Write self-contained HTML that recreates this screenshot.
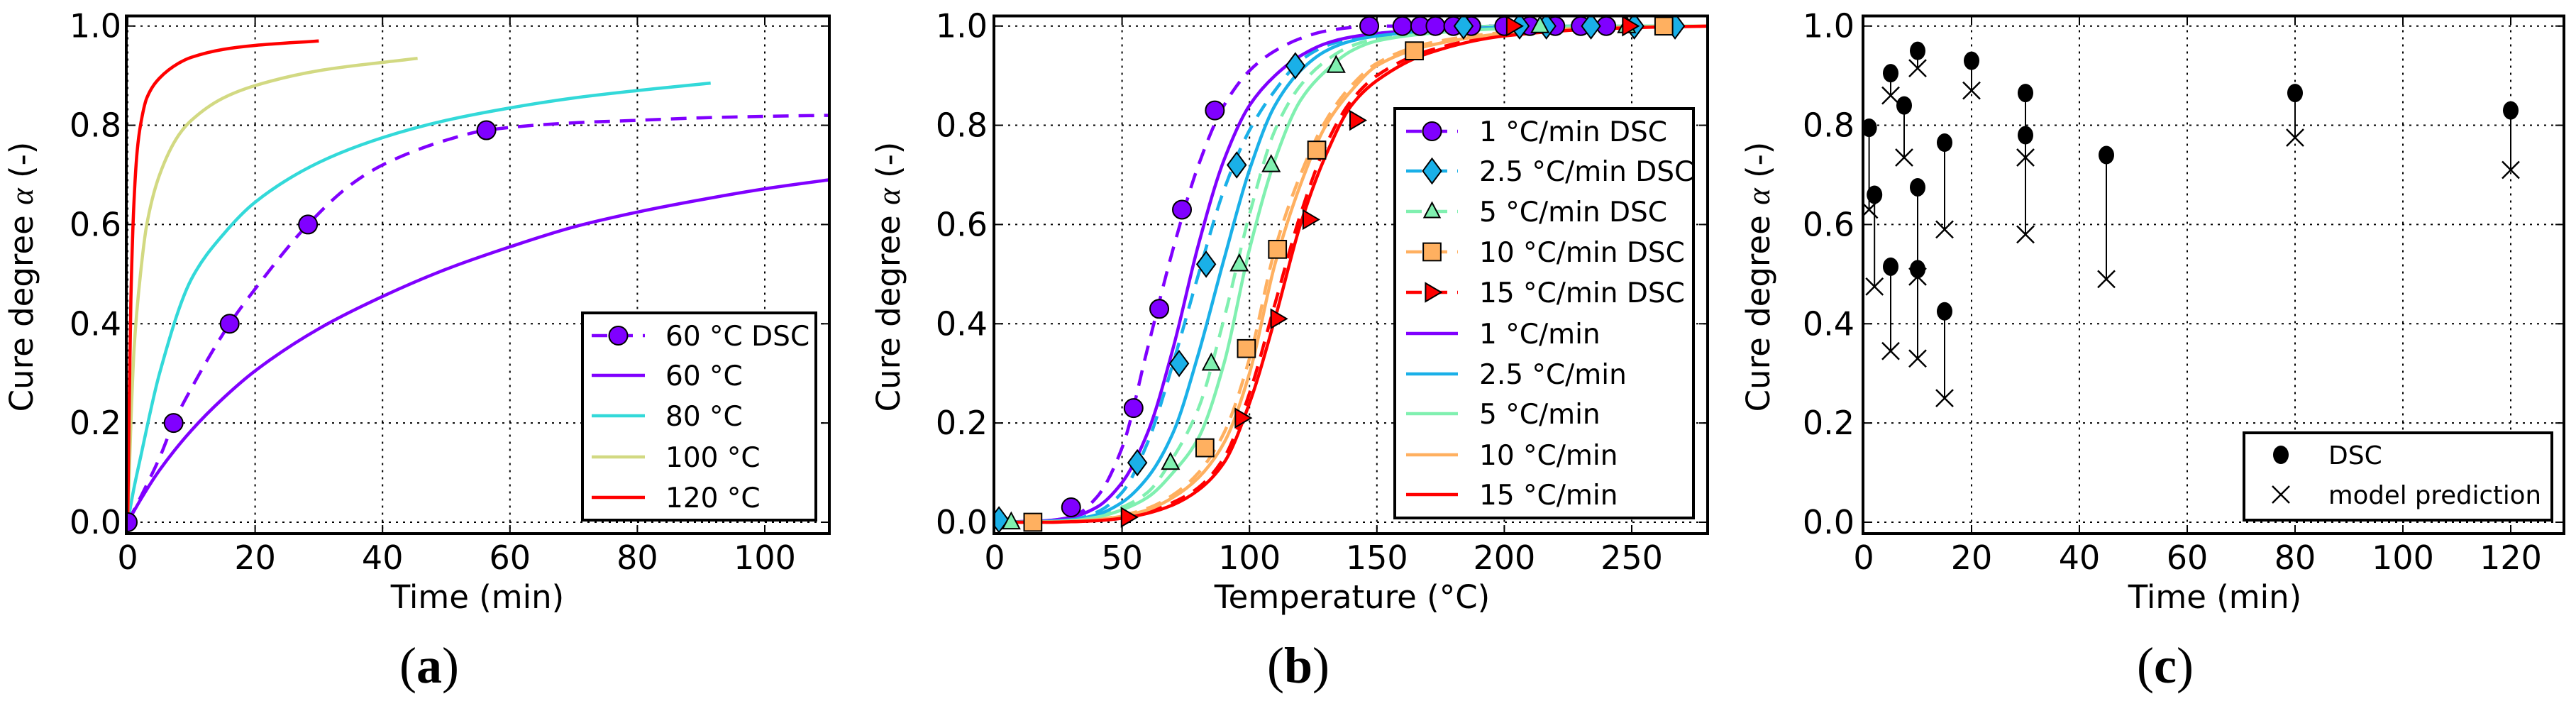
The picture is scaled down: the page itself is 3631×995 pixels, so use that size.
<!DOCTYPE html>
<html><head><meta charset="utf-8"><style>
html,body{margin:0;padding:0;background:#fff;}
svg{display:block;font-family:"DejaVu Sans","Liberation Sans",sans-serif;}
</style></head><body>
<svg id="fig" width="3631" height="995" viewBox="0 0 3631 995" xmlns="http://www.w3.org/2000/svg"></svg>
<script>
// ---------- Panel (a) data ----------
const aDscTime = [0, 7.2, 16, 28.3, 56.3];
const aDscVal = [0, 0.2, 0.4, 0.6, 0.79];
const aDashTime = [0, 2, 5, 7.2, 10, 16, 20, 28.3, 35, 40, 50, 56.3, 70, 80, 90, 100, 110];
const aDashVal = [0, 0.05, 0.13, 0.2, 0.27, 0.4, 0.47, 0.6, 0.68, 0.72, 0.77, 0.79, 0.805, 0.81, 0.815, 0.818, 0.82];
const a60Time = [0, 2, 5, 10, 15, 20, 30, 40, 50, 60, 70, 80, 90, 100, 110];
const a60Val = [0, 0.045, 0.105, 0.185, 0.25, 0.305, 0.39, 0.455, 0.51, 0.555, 0.595, 0.625, 0.65, 0.672, 0.69];
const a80Time = [0, 1, 2, 5, 10, 15, 20, 30, 40, 50, 60, 70, 80, 91.5];
const a80Val = [0, 0.07, 0.13, 0.3, 0.49, 0.58, 0.645, 0.725, 0.775, 0.81, 0.835, 0.855, 0.87, 0.885];
const a100Time = [0, 0.5, 1, 2, 3, 5, 8, 10, 15, 20, 30, 45.5];
const a100Val = [0, 0.2, 0.35, 0.5, 0.6, 0.7, 0.78, 0.81, 0.855, 0.88, 0.91, 0.935];
const a120Time = [0, 0.2, 0.5, 1, 1.5, 2, 3, 5, 8, 10, 15, 20, 30];
const a120Val = [0, 0.2, 0.45, 0.65, 0.75, 0.8, 0.855, 0.895, 0.925, 0.937, 0.953, 0.961, 0.97];
const aXTicks = ["0", "20", "40", "60", "80", "100"];
const yTicks = ["0.0", "0.2", "0.4", "0.6", "0.8", "1.0"];

// ---------- Panel (b) data ----------
const bGridT = [0, 20, 30, 40, 50, 60, 70, 80, 90, 100, 110, 120, 130, 140, 150, 170, 200, 240, 280];
const bSolid1 = [0, 0.003, 0.01, 0.03, 0.08, 0.18, 0.35, 0.56, 0.73, 0.84, 0.9, 0.94, 0.965, 0.978, 0.985, 0.992, 0.997, 1, 1];
const bSolid25 = [0, 0.002, 0.005, 0.015, 0.04, 0.09, 0.18, 0.34, 0.53, 0.71, 0.84, 0.91, 0.95, 0.97, 0.98, 0.99, 0.997, 1, 1];
const bSolid5 = [0, 0.001, 0.003, 0.01, 0.025, 0.05, 0.1, 0.17, 0.32, 0.55, 0.73, 0.85, 0.91, 0.95, 0.97, 0.985, 0.995, 1, 1];
const bSolid10 = [0, 0, 0.002, 0.005, 0.012, 0.025, 0.05, 0.09, 0.16, 0.3, 0.52, 0.68, 0.8, 0.87, 0.92, 0.96, 0.985, 0.997, 1];
const bSolid15 = [0, 0, 0.001, 0.003, 0.008, 0.018, 0.035, 0.065, 0.12, 0.24, 0.41, 0.6, 0.74, 0.84, 0.89, 0.945, 0.98, 0.995, 1];
const bDash1 = [0, 0.003, 0.01, 0.05, 0.15, 0.35, 0.55, 0.72, 0.84, 0.91, 0.95, 0.975, 0.99, 0.997, 1, 1, 1, 1, 1];
const bDash25 = [0, 0.002, 0.005, 0.02, 0.06, 0.16, 0.32, 0.5, 0.67, 0.79, 0.87, 0.93, 0.96, 0.975, 0.985, 0.993, 1, 1, 1];
const bDash5 = [0, 0.001, 0.004, 0.01, 0.03, 0.06, 0.13, 0.23, 0.41, 0.62, 0.79, 0.88, 0.93, 0.96, 0.975, 0.99, 1, 1, 1];
const bDash10 = [0, 0, 0.002, 0.005, 0.014, 0.028, 0.055, 0.1, 0.18, 0.33, 0.55, 0.7, 0.81, 0.88, 0.925, 0.965, 0.987, 0.998, 1];
const bDash15 = [0, 0, 0.001, 0.004, 0.01, 0.02, 0.04, 0.07, 0.13, 0.26, 0.44, 0.62, 0.76, 0.85, 0.9, 0.95, 0.982, 0.996, 1];
const bM1T = [30, 54.5, 64.6, 73.5, 86.4, 147, 160, 167, 173, 180, 187, 200, 210, 220, 230, 240];
const bM1V = [0.03, 0.23, 0.43, 0.63, 0.83, 1, 1, 1, 1, 1, 1, 1, 1, 1, 1, 1];
const bM25T = [1.7, 56, 72.4, 83, 95, 118, 184, 206, 216.5, 234, 251, 267];
const bM25V = [0.005, 0.12, 0.32, 0.52, 0.72, 0.92, 1, 1, 1, 1, 1, 1];
const bM5T = [6.5, 69, 85, 96, 108.5, 134, 214, 248];
const bM5V = [0, 0.12, 0.32, 0.52, 0.72, 0.92, 1, 1];
const bM10T = [15, 82.5, 98.8, 111, 126.4, 164.7, 262.6];
const bM10V = [0, 0.15, 0.35, 0.55, 0.75, 0.95, 1];
const bM15T = [52.3, 97, 111, 123.6, 142, 203.5, 249];
const bM15V = [0.01, 0.21, 0.41, 0.61, 0.81, 1, 1];
const bXTicks = ["0", "50", "100", "150", "200", "250"];

// ---------- Panel (c) data ----------
const cTime = [1, 2, 5, 5, 7.5, 10, 10, 10, 15, 15, 20, 30, 30, 45, 80, 120];
const cDsc = [0.795, 0.66, 0.905, 0.515, 0.84, 0.95, 0.675, 0.51, 0.765, 0.425, 0.93, 0.865, 0.78, 0.74, 0.865, 0.83];
const cModel = [0.63, 0.475, 0.86, 0.345, 0.735, 0.915, 0.33, 0.495, 0.59, 0.25, 0.87, 0.735, 0.58, 0.49, 0.775, 0.71];
const cXTicks = ["0", "20", "40", "60", "80", "100", "120"];

const NS = "http://www.w3.org/2000/svg";
const svg = document.getElementById("fig");
function el(tag, attrs, parent) {
  const e = document.createElementNS(NS, tag);
  for (const k in attrs) e.setAttribute(k, attrs[k]);
  (parent || svg).appendChild(e);
  return e;
}
function txt(s, attrs, parent) { const t = el("text", attrs, parent); t.textContent = s; return t; }

// monotone cubic path through pixel points (x increasing)
function smoothPath(px, py) {
  const n = px.length;
  if (n < 3) return px.map((x, i) => (i ? "L" : "M") + x.toFixed(1) + "," + py[i].toFixed(1)).join(" ");
  const d = [], m = new Array(n);
  for (let i = 0; i < n - 1; i++) d.push((py[i + 1] - py[i]) / (px[i + 1] - px[i]));
  m[0] = d[0]; m[n - 1] = d[n - 2];
  for (let i = 1; i < n - 1; i++) {
    if (d[i - 1] * d[i] <= 0) m[i] = 0;
    else {
      const h0 = px[i] - px[i - 1], h1 = px[i + 1] - px[i];
      const w1 = 2 * h1 + h0, w2 = h1 + 2 * h0;
      m[i] = (w1 + w2) / (w1 / d[i - 1] + w2 / d[i]);
    }
  }
  let s = "M" + px[0].toFixed(1) + "," + py[0].toFixed(1);
  for (let i = 0; i < n - 1; i++) {
    const h = (px[i + 1] - px[i]) / 3;
    s += ` C${(px[i] + h).toFixed(1)},${(py[i] + m[i] * h).toFixed(1)} ${(px[i + 1] - h).toFixed(1)},${(py[i + 1] - m[i + 1] * h).toFixed(1)} ${px[i + 1].toFixed(1)},${py[i + 1].toFixed(1)}`;
  }
  return s;
}

const Y0 = 736, Y1 = 36.7, FT = 22.5, FB = 752;
function axes(name, left, right, x0px, unit, xticks, xstep, xtitle, xtitleX, ytitleX, ylabelRight, capX, cap) {
  const g = el("g", {});
  
  
  const X = v => x0px + v * unit;
  const Y = v => Y0 - v * (Y0 - Y1);
  const grid = el("g", {}, g);
  
  
  for (let i = 0; i < xticks.length; i++) {
    const x = X(i * xstep);
    el("line", {x1: x, x2: x, y1: FT, y2: FB, stroke: "#000", "stroke-width": 2, "stroke-dasharray": "3,7"}, grid);
    el("line", {x1: x, x2: x, y1: FB, y2: FB - 12, stroke: "#000", "stroke-width": 2}, grid);
    el("line", {x1: x, x2: x, y1: FT, y2: FT + 12, stroke: "#000", "stroke-width": 2}, grid);
    const t = txt(xticks[i], {x: x, y: 802, "font-size": 46, "text-anchor": "middle"}, g);
    
    
  }
  for (let i = 0; i < yTicks.length; i++) {
    const y = Y(i * 0.2);
    el("line", {x1: left, x2: right, y1: y, y2: y, stroke: "#000", "stroke-width": 2, "stroke-dasharray": "3,7"}, grid);
    el("line", {x1: left, x2: left + 12, y1: y, y2: y, stroke: "#000", "stroke-width": 2}, grid);
    el("line", {x1: right, x2: right - 12, y1: y, y2: y, stroke: "#000", "stroke-width": 2}, grid);
    const t = txt(yTicks[i], {x: ylabelRight, y: y + 16, "font-size": 46, "text-anchor": "end"}, g);
    
    
  }
  const xt = txt(xtitle, {x: xtitleX, y: 857, "font-size": 45, "text-anchor": "middle"}, g);
  
  
  const yt = el("text", {x: 0, y: 0, "font-size": 45, "text-anchor": "middle", transform: `translate(${ytitleX},390) rotate(-90)`}, g);
  yt.appendChild(document.createTextNode("Cure degree "));
  const a = el("tspan", {"font-style": "italic", "font-family": "Liberation Serif, serif"}, yt); a.textContent = "α";
  yt.appendChild(document.createTextNode(" (-)"));
  
  
  const c = el("text", {x: capX, y: 962, "font-size": 72, "text-anchor": "middle", "font-family": "Liberation Serif, serif"}, g);
  c.appendChild(document.createTextNode("("));
  const cb = el("tspan", {"font-weight": "bold"}, c); cb.textContent = cap;
  c.appendChild(document.createTextNode(")"));
  
  
  const clipId = name + "-clip";
  const cp = el("clipPath", {id: clipId}, g);
  el("rect", {x: left, y: FT, width: right - left, height: FB - FT}, cp);
  const plot = el("g", {"clip-path": `url(#${clipId})`}, g);
  
  
  const frame = el("rect", {x: left, y: FT, width: right - left, height: FB - FT, fill: "none", stroke: "#000", "stroke-width": 4}, g);
  
  
  return {X, Y, plot, g};
}
function line(ax, xs, ys, color, dash, name) {
  const d = smoothPath(xs.map(ax.X), ys.map(ax.Y));
  const p = el("path", {d, fill: "none", stroke: color, "stroke-width": 4.5, "stroke-linejoin": "round"}, ax.plot);
  if (dash) p.setAttribute("stroke-dasharray", "22,14");
  
  
  return p;
}
function marker(parent, type, cx, cy, color, r) {
  let e;
  if (type === "circle") e = el("circle", {cx, cy, r}, parent);
  else if (type === "diamond") e = el("polygon", {points: `${cx},${cy - r * 1.35} ${cx + r},${cy} ${cx},${cy + r * 1.35} ${cx - r},${cy}`}, parent);
  else if (type === "tri") e = el("polygon", {points: `${cx},${cy - r * 0.95} ${cx + r * 0.85},${cy + r * 0.65} ${cx - r * 0.85},${cy + r * 0.65}`}, parent);
  else if (type === "square") e = el("rect", {x: cx - r * 0.95, y: cy - r * 0.95, width: r * 1.9, height: r * 1.9}, parent);
  else if (type === "tright") e = el("polygon", {points: `${cx + r},${cy} ${cx - r * 0.7},${cy - r} ${cx - r * 0.7},${cy + r}`}, parent);
  else if (type === "x") {
    return el("path", {d: `M${cx - r},${cy - r}L${cx + r},${cy + r}M${cx - r},${cy + r}L${cx + r},${cy - r}`, stroke: "#000", "stroke-width": 2.5, fill: "none"}, parent);
  }
  e.setAttribute("fill", color); e.setAttribute("stroke", "#000"); e.setAttribute("stroke-width", 2);
  return e;
}
function legendBox(g, name, x, y, w, h) {
  const lg = el("g", {}, g);
  
  
  el("rect", {x, y, width: w, height: h, fill: "#fff", stroke: "#000", "stroke-width": 4}, lg);
  return lg;
}
function legendEntry(lg, name, ly, lx1, lx2, tx, label, color, dash, mtype, mcolor, r) {
  const e = el("g", {}, lg);
  
  
  if (color) {
    const l = el("line", {x1: lx1, x2: lx2, y1: ly, y2: ly, stroke: color, "stroke-width": 4.5}, e);
    if (dash) l.setAttribute("stroke-dasharray", "22,14");
  }
  if (mtype) marker(e, mtype, (lx1 + lx2) / 2, ly, mcolor, r);
  txt(label, {x: tx, y: ly + 14, "font-size": 39}, e);
}

// ===== Panel (a) =====
const PURPLE = "#8000ff", CYAN = "#33d9d9", KHAKI = "#d2d982", RED = "#ff0000";
const A = axes("panel-a", 178, 1169, 180, 8.98, aXTicks, 20, "Time (min)", 673, 46, 171, 605, "a");
line(A, a60Time, a60Val, PURPLE, false, "curve-60c");
line(A, a80Time, a80Val, CYAN, false, "curve-80c");
line(A, a100Time, a100Val, KHAKI, false, "curve-100c");
line(A, a120Time, a120Val, RED, false, "curve-120c");
line(A, aDashTime, aDashVal, PURPLE, true, "curve-60c-dsc-fit");
for (let i = 0; i < aDscTime.length; i++) {
  const m = marker(A.plot, "circle", A.X(aDscTime[i]), A.Y(aDscVal[i]), PURPLE, 13);
  
  
}
const LA = legendBox(A.g, "panel-a-legend", 821, 441, 329, 292);
legendEntry(LA, "legend-entry-60c-dsc", 473, 834, 909, 938, "60 °C DSC", PURPLE, true, "circle", PURPLE, 13);
legendEntry(LA, "legend-entry-60c", 529, 834, 909, 938, "60 °C", PURPLE);
legendEntry(LA, "legend-entry-80c", 586, 834, 909, 938, "80 °C", CYAN);
legendEntry(LA, "legend-entry-100c", 644, 834, 909, 938, "100 °C", KHAKI);
legendEntry(LA, "legend-entry-120c", 701, 834, 909, 938, "120 °C", RED);

// ===== Panel (b) =====
const C1 = "#8000ff", C25 = "#1ab0e8", C5 = "#80f0b0", C10 = "#ffb060", C15 = "#ff0000";
const B = axes("panel-b", 1401, 2407, 1402, 3.592, bXTicks, 50, "Temperature (°C)", 1906, 1268, 1392, 1830, "b");
const bSer = [
  [bSolid1, bDash1, bM1T, bM1V, C1, "circle", "1"],
  [bSolid25, bDash25, bM25T, bM25V, C25, "diamond", "2-5"],
  [bSolid5, bDash5, bM5T, bM5V, C5, "tri", "5"],
  [bSolid10, bDash10, bM10T, bM10V, C10, "square", "10"],
  [bSolid15, bDash15, bM15T, bM15V, C15, "tright", "15"]
];
bSer.forEach(s => line(B, bGridT, s[1], s[4], true, "dsc-fit-" + s[6] + "-c-per-min"));
bSer.forEach(s => line(B, bGridT, s[0], s[4], false, "model-" + s[6] + "-c-per-min"));
bSer.forEach(s => {
  for (let i = 0; i < s[2].length; i++) {
    const m = marker(B.plot, s[5], B.X(s[2][i]), B.Y(s[3][i]), s[4], s[5] === "tri" ? 14 : 13);
    
    
  }
});
const LB = legendBox(B.g, "panel-b-legend", 1966, 153, 421, 577);
const bLabels = ["1 °C/min", "2.5 °C/min", "5 °C/min", "10 °C/min", "15 °C/min"];
const bLy = [185, 241, 298, 355, 412, 470, 527, 583, 641, 697];
bSer.forEach((s, i) => legendEntry(LB, "legend-entry-" + s[6] + "-dsc", bLy[i], 1982, 2055, 2085, bLabels[i] + " DSC", s[4], true, s[5], s[4], 13));
bSer.forEach((s, i) => legendEntry(LB, "legend-entry-" + s[6] + "-model", bLy[i + 5], 1982, 2055, 2085, bLabels[i], s[4], false));

// ===== Panel (c) =====
const Cc = axes("panel-c", 2626, 3614, 2627, 7.6, cXTicks, 20, "Time (min)", 3122, 2494, 2614, 3052, "c");
for (let i = 0; i < cTime.length; i++) {
  const x = Cc.X(cTime[i]);
  const l = el("line", {x1: x, x2: x, y1: Cc.Y(cDsc[i]), y2: Cc.Y(cModel[i]), stroke: "#000", "stroke-width": 2}, Cc.plot);
  
  
}
for (let i = 0; i < cTime.length; i++) {
  const x = Cc.X(cTime[i]);
  const d = el("ellipse", {cx: x, cy: Cc.Y(cDsc[i]), rx: 11, ry: 13, fill: "#000"}, Cc.plot);
  
  
  const m = marker(Cc.plot, "x", x, Cc.Y(cModel[i]), "#000", 12);
  
  
}
const LC = legendBox(Cc.g, "panel-c-legend", 3163, 610, 434, 123);
const e1 = el("g", {}, LC);


el("ellipse", {cx: 3215, cy: 641, rx: 11, ry: 13, fill: "#000"}, e1);
txt("DSC", {x: 3282, y: 654, "font-size": 36}, e1);
const e2 = el("g", {}, LC);


marker(e2, "x", 3215, 697, "#000", 12);
txt("model prediction", {x: 3282, y: 710, "font-size": 36, textLength: 300, lengthAdjust: "spacingAndGlyphs"}, e2);
</script>
</body></html>
